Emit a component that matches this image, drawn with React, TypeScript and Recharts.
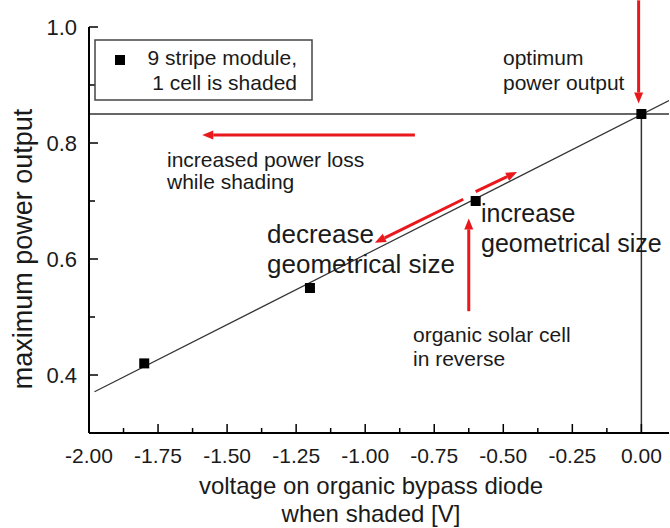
import React from 'react';
import {
  ScatterChart,
  Scatter,
  XAxis,
  YAxis,
  ReferenceLine,
} from 'recharts';

// axis setup
const X_DOMAIN = [-2, 0.1];
const Y_DOMAIN = [0.3, 1.0];
const X_TICKS = [
  -2, -1.875, -1.75, -1.625, -1.5, -1.375, -1.25, -1.125, -1,
  -0.875, -0.75, -0.625, -0.5, -0.375, -0.25, -0.125, 0,
];
const Y_TICKS = [0.4, 0.5, 0.6, 0.7, 0.8, 0.9, 1.0];

// measured points: 9 stripe module, 1 cell shaded
const VOLTAGE = [-1.8, -1.2, -0.6, 0];
const POWER = [0.42, 0.55, 0.7, 0.85];

// linear fit end points
const FIT_X = [-1.98, 0.1];
const FIT_Y = [0.371, 0.873];

// optimum working point (guide lines)
const OPT_X = 0;
const OPT_Y = 0.85;

// red annotation arrows, [x, y] from -> to (head at "to")
const ARROWS = [
  { from: [-0.01, 1.046], to: [-0.01, 0.868] },
  { from: [-0.82, 0.814], to: [-1.59, 0.814] },
  { from: [-0.6, 0.716], to: [-0.45, 0.75] },
  { from: [-0.645, 0.703], to: [-0.965, 0.628] },
  { from: [-0.625, 0.51], to: [-0.625, 0.67] },
];

const points = VOLTAGE.map((v, i) => ({ x: v, y: POWER[i] }));
const fitLine = FIT_X.map((v, i) => ({ x: v, y: FIT_Y[i] }));

const FONT = '"Liberation Sans", Arial, sans-serif';
const INK = '#1a1a1a';
const RED = '#e8181c';

const isMajorX = (v: number) => Math.abs(v * 4 - Math.round(v * 4)) < 1e-6;
const isMajorY = (v: number) => Math.abs(v * 5 - Math.round(v * 5)) < 1e-6;

const BottomTick = (props: any) => {
  const { x, y, payload } = props;
  const major = isMajorX(payload.value);
  return (
    <g>
      <line x1={x} y1={y} x2={x} y2={y - (major ? 9 : 5)} stroke="#000" strokeWidth={1.5} />
      {major && (
        <text x={x} y={y + 30} textAnchor="middle" fontSize={21} fill={INK} fontFamily={FONT}>
          {payload.value.toFixed(2)}
        </text>
      )}
    </g>
  );
};

const TopTick = (props: any) => {
  const { x, y, payload } = props;
  const major = isMajorX(payload.value);
  return <line x1={x} y1={y} x2={x} y2={y + (major ? 9 : 5)} stroke="#000" strokeWidth={1.5} />;
};

const LeftTick = (props: any) => {
  const { x, y, payload } = props;
  const major = isMajorY(payload.value);
  return (
    <g>
      <line x1={x} y1={y} x2={x + (major ? 9 : 6)} y2={y} stroke="#000" strokeWidth={1.5} />
      {major && (
        <text x={x - 12} y={y + 8} textAnchor="end" fontSize={22} fill={INK} fontFamily={FONT}>
          {payload.value.toFixed(1)}
        </text>
      )}
    </g>
  );
};

const RightTick = (props: any) => {
  const { x, y, payload } = props;
  const major = isMajorY(payload.value);
  return <line x1={x} y1={y} x2={x - (major ? 9 : 6)} y2={y} stroke="#000" strokeWidth={1.5} />;
};

const Arrow = (props: any) => {
  const { x1, y1, x2, y2 } = props;
  const ang = Math.atan2(y2 - y1, x2 - x1);
  const len = 11;
  const half = 4.5;
  const bx = x2 - len * Math.cos(ang);
  const by = y2 - len * Math.sin(ang);
  const px = -Math.sin(ang) * half;
  const py = Math.cos(ang) * half;
  return (
    <g>
      <line x1={x1} y1={y1} x2={bx} y2={by} stroke={RED} strokeWidth={3} />
      <polygon points={`${x2},${y2} ${bx + px},${by + py} ${bx - px},${by - py}`} fill={RED} />
    </g>
  );
};

const Square = (props: any) => {
  const { cx, cy } = props;
  return <rect x={cx - 5} y={cy - 5} width={10} height={10} fill="#000" />;
};

const textStyle = { fontFamily: FONT, fill: INK };

export default function App() {
  return (
    <div style={{ position: 'absolute', left: 0, top: 0, width: 670, height: 528, background: '#fff' }}>
      <ScatterChart width={670} height={528} margin={{ top: 27, right: 1, bottom: 0, left: 0 }}>
        <XAxis
          dataKey="x"
          type="number"
          domain={X_DOMAIN}
          ticks={X_TICKS}
          interval={0}
          height={95}
          tickSize={0}
          tickMargin={0}
          tickLine={false}
          tick={<BottomTick />}
          axisLine={{ stroke: '#000', strokeWidth: 2 }}
          allowDataOverflow
        />
        <XAxis
          xAxisId="top"
          orientation="top"
          dataKey="x"
          type="number"
          domain={X_DOMAIN}
          ticks={X_TICKS}
          interval={0}
          height={0}
          tickSize={0}
          tickMargin={0}
          tickLine={false}
          tick={<TopTick />}
          axisLine={{ stroke: '#000', strokeWidth: 1.5 }}
          allowDataOverflow
        />
        <YAxis
          dataKey="y"
          type="number"
          domain={Y_DOMAIN}
          ticks={Y_TICKS}
          interval={0}
          width={89}
          tickSize={0}
          tickMargin={0}
          tickLine={false}
          tick={<LeftTick />}
          axisLine={{ stroke: '#000', strokeWidth: 2 }}
          allowDataOverflow
        />
        <YAxis
          yAxisId="right"
          orientation="right"
          dataKey="y"
          type="number"
          domain={Y_DOMAIN}
          ticks={Y_TICKS}
          interval={0}
          width={0}
          tickSize={0}
          tickMargin={0}
          tickLine={false}
          tick={<RightTick />}
          axisLine={{ stroke: '#000', strokeWidth: 1.5 }}
          allowDataOverflow
        />
        <ReferenceLine y={OPT_Y} stroke="#333" strokeWidth={1.3} ifOverflow="visible" />
        <ReferenceLine
          segment={[{ x: OPT_X, y: OPT_Y }, { x: OPT_X, y: Y_DOMAIN[0] }]}
          stroke="#333"
          strokeWidth={1.5}
          ifOverflow="visible"
        />
        <Scatter
          data={fitLine}
          line={{ stroke: '#333', strokeWidth: 1.2 }}
          shape={() => <g />}
          isAnimationActive={false}
        />
        <Scatter data={points} shape={<Square />} isAnimationActive={false} />
        {ARROWS.map((a, i) => (
          <ReferenceLine
            key={`arrow-${i}`}
            segment={[{ x: a.from[0], y: a.from[1] }, { x: a.to[0], y: a.to[1] }]}
            ifOverflow="visible"
            shape={<Arrow />}
          />
        ))}
      </ScatterChart>
      <svg
        width={670}
        height={528}
        style={{ position: 'absolute', left: 0, top: 0, pointerEvents: 'none' }}
      >
        {/* legend */}
        <rect x={95} y={40} width={217} height={60} fill="#fff" stroke="#444" strokeWidth={1.5} />
        <rect x={115} y={55} width={10} height={10} fill="#000" />
        <text x={297} y={65} textAnchor="end" fontSize={21} style={textStyle}>9 stripe module,</text>
        <text x={297} y={90} textAnchor="end" fontSize={21} style={textStyle}>1 cell is shaded</text>

        {/* annotations */}
        <text x={503} y={65} fontSize={21} style={textStyle}>optimum</text>
        <text x={503} y={90} fontSize={21} style={textStyle}>power output</text>
        <text x={167} y={167} fontSize={21} style={textStyle}>increased power loss</text>
        <text x={167} y={189} fontSize={21} style={textStyle}>while shading</text>
        <text x={481} y={222} fontSize={25} style={textStyle}>increase</text>
        <text x={481} y={252} fontSize={25} style={textStyle}>geometrical size</text>
        <text x={267} y={243} fontSize={26} style={textStyle}>decrease</text>
        <text x={267} y={273} fontSize={26} style={textStyle}>geometrical size</text>
        <text x={413} y={342} fontSize={21} style={textStyle}>organic solar cell</text>
        <text x={413} y={366} fontSize={21} style={textStyle}>in reverse</text>

        {/* axis titles */}
        <text x={371} y={494} textAnchor="middle" fontSize={24} style={textStyle}>
          voltage on organic bypass diode
        </text>
        <text x={371} y={522} textAnchor="middle" fontSize={24} style={textStyle}>
          when shaded [V]
        </text>
        <text
          x={32}
          y={249}
          textAnchor="middle"
          fontSize={27}
          transform="rotate(-90, 32, 249)"
          style={textStyle}
        >
          maximum power output
        </text>
      </svg>
    </div>
  );
}
